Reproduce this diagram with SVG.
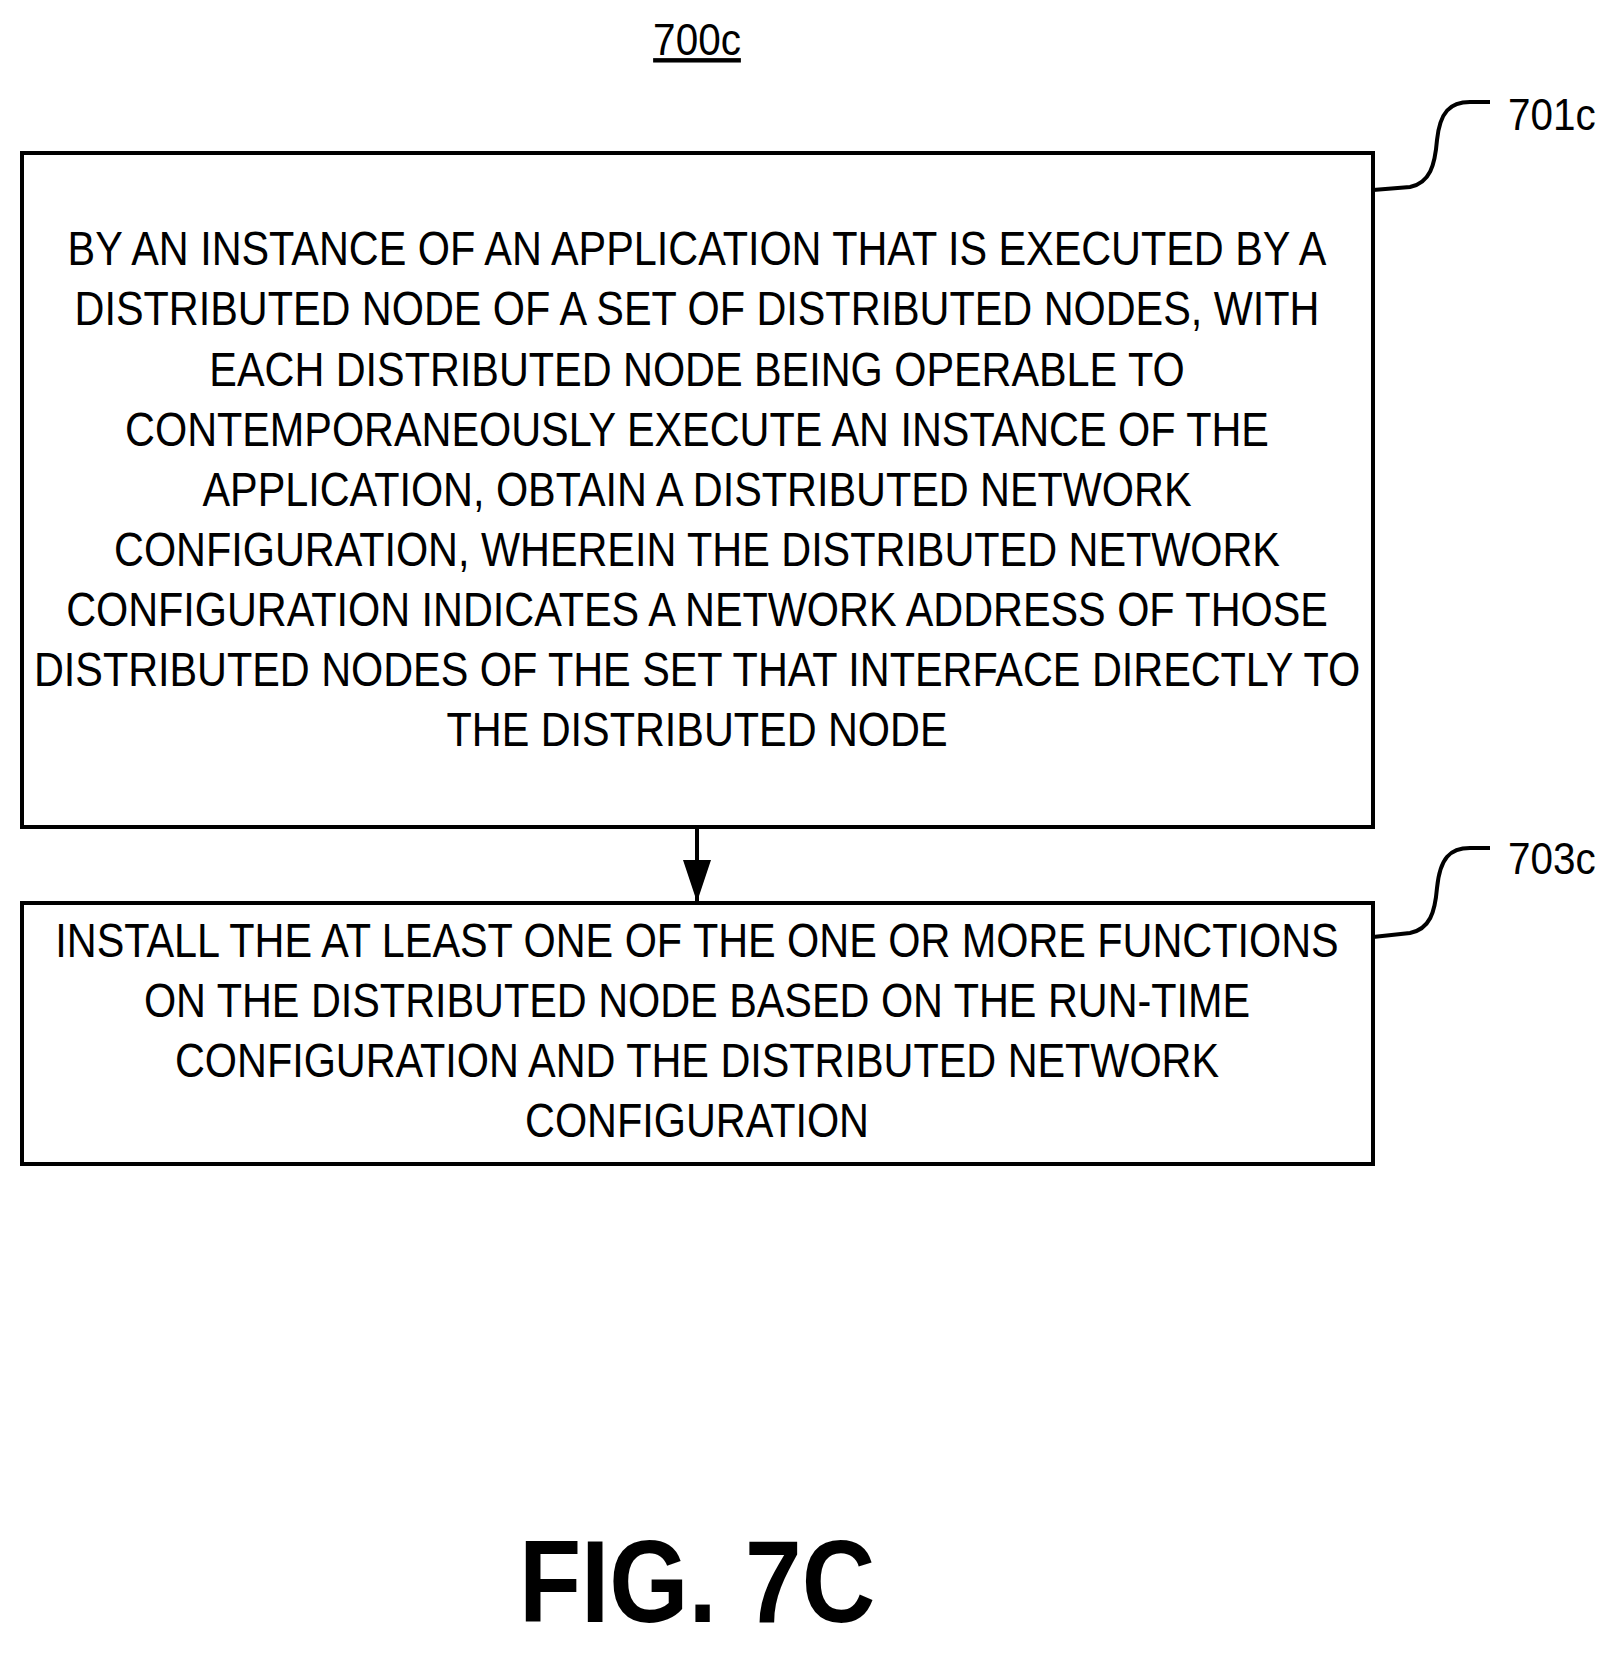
<svg xmlns="http://www.w3.org/2000/svg" width="1615" height="1653" viewBox="0 0 1615 1653">
<style>
.b{fill:#fff;stroke:#000;stroke-width:4}
.t{font-family:"Liberation Sans",Arial,sans-serif;font-size:48px;text-anchor:middle;fill:#000}
.l{font-family:"Liberation Sans",Arial,sans-serif;font-size:44px;fill:#000}
.c{fill:none;stroke:#000;stroke-width:4}
</style>
<defs><marker id="a" markerWidth="42" markerHeight="28" refX="42" refY="14" orient="auto" markerUnits="userSpaceOnUse" viewBox="0 0 42 28"><path d="M0,0L42,14L0,28z"/></marker></defs>
<g transform="translate(697,0) scale(0.92,1)"><text x="0" y="55" class="l" text-anchor="middle" text-decoration="underline">700c</text></g>
<g id="n701c">
<rect class="b" x="22" y="153" width="1351" height="674"/>
<g transform="translate(697,0) scale(0.862,1)">
<text class="t"><tspan x="0" y="265">BY AN INSTANCE OF AN APPLICATION THAT IS EXECUTED BY A</tspan><tspan x="0" y="325">DISTRIBUTED NODE OF A SET OF DISTRIBUTED NODES, WITH</tspan><tspan x="0" y="386">EACH DISTRIBUTED NODE BEING OPERABLE TO</tspan><tspan x="0" y="446">CONTEMPORANEOUSLY EXECUTE AN INSTANCE OF THE</tspan><tspan x="0" y="506">APPLICATION, OBTAIN A DISTRIBUTED NETWORK</tspan><tspan x="0" y="566">CONFIGURATION, WHEREIN THE DISTRIBUTED NETWORK</tspan><tspan x="0" y="626">CONFIGURATION INDICATES A NETWORK ADDRESS OF THOSE</tspan><tspan x="0" y="686">DISTRIBUTED NODES OF THE SET THAT INTERFACE DIRECTLY TO</tspan><tspan x="0" y="746">THE DISTRIBUTED NODE</tspan></text>
</g>
<g transform="translate(1508,0) scale(0.92,1)"><text class="l" x="0" y="130">701c</text></g>
</g>
<g id="n703c">
<rect class="b" x="22" y="903" width="1351" height="261"/>
<g transform="translate(697,0) scale(0.862,1)">
<text class="t"><tspan x="0" y="957">INSTALL THE AT LEAST ONE OF THE ONE OR MORE FUNCTIONS</tspan><tspan x="0" y="1017">ON THE DISTRIBUTED NODE BASED ON THE RUN-TIME</tspan><tspan x="0" y="1077">CONFIGURATION AND THE DISTRIBUTED NETWORK</tspan><tspan x="0" y="1137">CONFIGURATION</tspan></text>
</g>
<g transform="translate(1508,0) scale(0.92,1)"><text class="l" x="0" y="874">703c</text></g>
</g>
<g id="connectors">
<path class="c" d="M1373,190 L1410,187 C1430,183 1435,165 1437,140 C1440,112 1450,102 1470,102 L1490,102"/>
<path class="c" d="M1373,937 L1410,933 C1430,929 1435,912 1437,888 C1440,858 1450,848 1470,848 L1490,848"/>
<line x1="697" y1="829" x2="697" y2="902" stroke="#000" stroke-width="4" marker-end="url(#a)"/>
</g>
<g transform="translate(697,0) scale(0.87,1)"><text x="0" y="1622" font-family="Liberation Sans,Arial,sans-serif" font-weight="bold" font-size="117" text-anchor="middle">FIG. 7C</text></g>
</svg>
